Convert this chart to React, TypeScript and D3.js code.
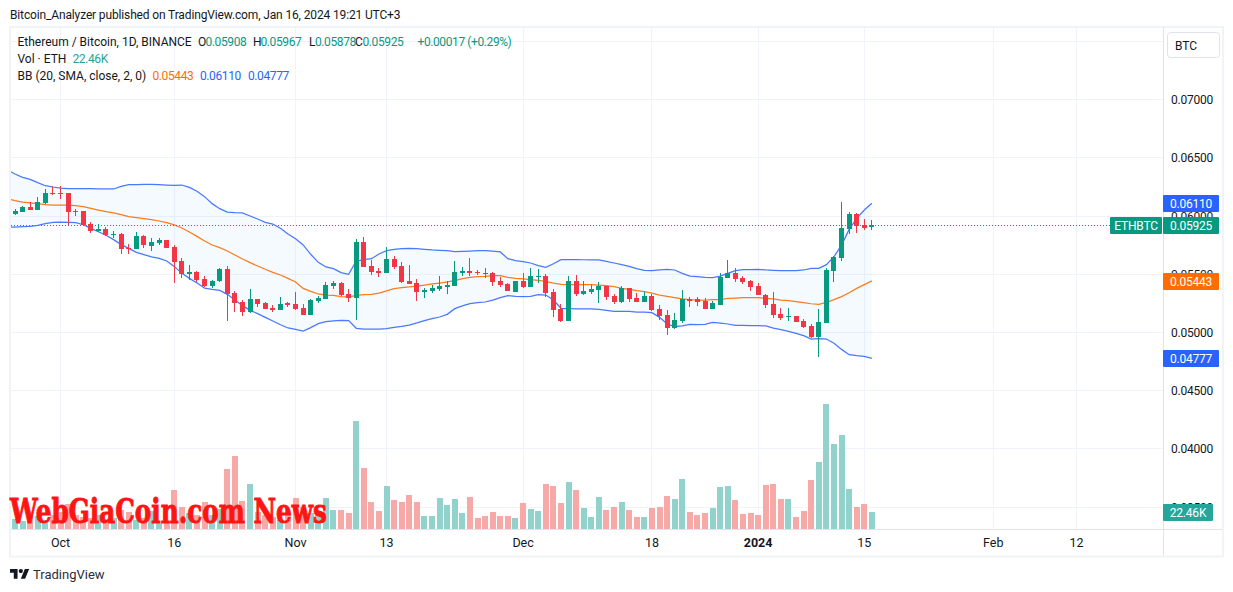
import React from "react";
import * as d3 from "d3";

const W = 1233;
const H = 592;
const FONT = "Roboto, sans-serif";

const opens = [
  0.06018, 0.06038, 0.06078, 0.06052, 0.06113, 0.06198, 0.06198, 0.06198, 0.06044, 0.06044,
  0.05932, 0.05869, 0.05889, 0.05838, 0.05846, 0.05726, 0.05717, 0.05829, 0.05743, 0.05769,
  0.05795, 0.05735, 0.05614, 0.05503, 0.0552, 0.0546, 0.054, 0.05442, 0.05546, 0.05339,
  0.05262, 0.05176, 0.05288, 0.05254, 0.05211, 0.05193, 0.05254, 0.05245, 0.0521, 0.0515,
  0.05271, 0.05288, 0.05399, 0.05425, 0.05331, 0.05296, 0.05778, 0.05571, 0.05528, 0.05511,
  0.05631, 0.05571, 0.05442, 0.05425, 0.05348, 0.05357, 0.05374, 0.05391, 0.05399, 0.05511,
  0.05528, 0.0552, 0.05511, 0.05511, 0.05442, 0.05417, 0.05348, 0.05442, 0.05391, 0.05477,
  0.05485, 0.05348, 0.05202, 0.05099, 0.05442, 0.05331, 0.05348, 0.05365, 0.05399, 0.05313,
  0.05262, 0.05382, 0.05296, 0.05262, 0.05313, 0.05202, 0.0515, 0.05038, 0.05099, 0.05288,
  0.05288, 0.0527, 0.05202, 0.05236, 0.05468, 0.05511, 0.05468, 0.05442, 0.05399, 0.05322,
  0.05245, 0.05159, 0.05133, 0.05142, 0.05099, 0.05056, 0.04961, 0.05081, 0.05528, 0.0564,
  0.05889, 0.06018, 0.05923, 0.05908,
];
const highs = [
  0.06061, 0.06084, 0.06118, 0.06161, 0.06233, 0.06259, 0.06259, 0.06198, 0.06061, 0.06044,
  0.05949, 0.05932, 0.05906, 0.05872, 0.05852, 0.0576, 0.05864, 0.05838, 0.05812, 0.05812,
  0.05795, 0.05752, 0.0564, 0.0558, 0.05528, 0.05485, 0.05451, 0.05554, 0.05571, 0.05357,
  0.05279, 0.05374, 0.05288, 0.05262, 0.05236, 0.05305, 0.05262, 0.05348, 0.05245, 0.05288,
  0.05314, 0.05434, 0.05442, 0.05434, 0.05374, 0.05803, 0.0582, 0.05623, 0.05554, 0.05732,
  0.05657, 0.05606, 0.0558, 0.0546, 0.05382, 0.05408, 0.05485, 0.05442, 0.05614, 0.05563,
  0.0564, 0.05537, 0.05554, 0.0552, 0.05477, 0.05425, 0.05442, 0.05511, 0.05554, 0.05546,
  0.05503, 0.05374, 0.05245, 0.05485, 0.05494, 0.05442, 0.05408, 0.05434, 0.05399, 0.05331,
  0.05399, 0.05382, 0.05339, 0.05348, 0.05331, 0.05236, 0.05193, 0.05167, 0.05365, 0.05305,
  0.05305, 0.05296, 0.0527, 0.05511, 0.05623, 0.05554, 0.05485, 0.05451, 0.05425, 0.05331,
  0.05348, 0.0521, 0.0521, 0.05142, 0.05116, 0.05073, 0.05199, 0.05554, 0.05657, 0.06121,
  0.06035, 0.06026, 0.05975, 0.05967,
];
const lows = [
  0.0601, 0.06032, 0.06052, 0.06052, 0.06104, 0.06178, 0.06147, 0.05924, 0.06001, 0.05921,
  0.05855, 0.05861, 0.05829, 0.05812, 0.05674, 0.05674, 0.05717, 0.05726, 0.057, 0.05752,
  0.05726, 0.05425, 0.05468, 0.05451, 0.05434, 0.05391, 0.05382, 0.05434, 0.05099, 0.05176,
  0.05142, 0.05168, 0.05219, 0.05202, 0.05176, 0.05193, 0.05219, 0.05193, 0.0515, 0.0515,
  0.05253, 0.05288, 0.05374, 0.05314, 0.05262, 0.05107, 0.05563, 0.05494, 0.05477, 0.05511,
  0.05546, 0.05425, 0.05414, 0.05271, 0.05296, 0.05339, 0.05357, 0.05331, 0.05399, 0.05485,
  0.05485, 0.05494, 0.05468, 0.05399, 0.05391, 0.05357, 0.05348, 0.05382, 0.05391, 0.05425,
  0.05305, 0.05133, 0.0509, 0.05099, 0.05314, 0.05322, 0.05331, 0.05253, 0.05279, 0.05245,
  0.05253, 0.05262, 0.05262, 0.05262, 0.05184, 0.05107, 0.04978, 0.0503, 0.05081, 0.05219,
  0.05227, 0.05202, 0.05202, 0.05236, 0.05468, 0.05434, 0.05416, 0.05356, 0.05322, 0.0521,
  0.05124, 0.05107, 0.05099, 0.0509, 0.05038, 0.04952, 0.04789, 0.05081, 0.05434, 0.05614,
  0.05846, 0.05855, 0.0588, 0.05878,
];
const closes = [
  0.06044, 0.06075, 0.06052, 0.06118, 0.06198, 0.0619, 0.0619, 0.06038, 0.06035, 0.05921,
  0.05872, 0.05886, 0.05838, 0.05846, 0.05717, 0.05717, 0.05829, 0.05752, 0.05778, 0.05795,
  0.05726, 0.05606, 0.05503, 0.0552, 0.05451, 0.054, 0.05442, 0.05546, 0.05331, 0.05254,
  0.05176, 0.05288, 0.05245, 0.05202, 0.05193, 0.05245, 0.05236, 0.05202, 0.0515, 0.05279,
  0.05296, 0.05408, 0.05425, 0.05322, 0.05296, 0.05778, 0.05563, 0.0552, 0.05511, 0.05631,
  0.05563, 0.05434, 0.05417, 0.05348, 0.05368, 0.05382, 0.05399, 0.05408, 0.0552, 0.05528,
  0.05511, 0.05511, 0.05503, 0.05434, 0.05408, 0.05357, 0.05442, 0.05391, 0.05485, 0.05485,
  0.05339, 0.05193, 0.05099, 0.05442, 0.05331, 0.05356, 0.05373, 0.05399, 0.05305, 0.05262,
  0.05382, 0.05288, 0.05262, 0.05313, 0.05193, 0.05142, 0.05038, 0.05107, 0.05288, 0.0527,
  0.05262, 0.05202, 0.05253, 0.05477, 0.05511, 0.05459, 0.05434, 0.05391, 0.05322, 0.05236,
  0.0515, 0.05124, 0.05142, 0.0509, 0.05047, 0.04961, 0.0509, 0.05537, 0.05648, 0.05898,
  0.06018, 0.05915, 0.05898, 0.05925,
];

// thousands of ETH
const volumes = [
  12.8, 11, 18.5, 17.6, 11.9, 18.5, 22, 33, 18.5, 16.3,
  14.1, 18.5, 11.9, 14.1, 25, 22.9, 11.9, 14.1, 23.3, 7.9,
  9.7, 51.5, 29, 21.6, 18.5, 35.6, 18.5, 26.4, 79.2, 96.4,
  37, 59.4, 22.4, 18.5, 15.8, 11.9, 20.7, 40.9, 29.5, 20.7,
  18.5, 40.9, 25.1, 25.1, 21.1, 142.6, 80.5, 35.6, 23.8, 56.8,
  38.3, 35.6, 44.9, 35.6, 17.2, 17.2, 40.9, 31.7, 39.6, 21.1,
  42.2, 14.5, 17.2, 22.4, 17.2, 17.2, 14.5, 34.3, 26.4, 23.8,
  59.4, 56.8, 34.3, 62, 51.5, 27.7, 15.8, 42.2, 25.1, 29,
  35.6, 25.1, 15.8, 15.8, 27.7, 29, 43.6, 39.6, 66, 22.4,
  18.5, 21.1, 27.7, 55.4, 56.8, 38.3, 19.8, 21.1, 18.5, 58.1,
  59.4, 39.6, 39.6, 15.8, 23.8, 64.7, 88.4, 165, 112.2, 124.1,
  52.8, 29, 33, 22.46,
];

// BB arrays start one day earlier than the candles (the line runs off the left edge)
const bbUpper = [
  0.06396, 0.06362, 0.06333, 0.06316, 0.06287, 0.06261, 0.0625, 0.06241, 0.06236, 0.06236,
  0.06236, 0.06236, 0.06233, 0.06233, 0.06233, 0.06256, 0.0627, 0.0627, 0.06273, 0.06273,
  0.0627, 0.06267, 0.06264, 0.06267, 0.06247, 0.06213, 0.06167, 0.06107, 0.06064, 0.06035,
  0.0603, 0.06027, 0.06001, 0.05975, 0.05946, 0.05932, 0.05895, 0.05846, 0.05806, 0.05752,
  0.05672, 0.05603, 0.05563, 0.05548, 0.05514, 0.055, 0.05614, 0.05626, 0.05634, 0.05674,
  0.05703, 0.05714, 0.0572, 0.05723, 0.0572, 0.05714, 0.05709, 0.05706, 0.05703, 0.05694,
  0.05697, 0.057, 0.05703, 0.05703, 0.057, 0.05692, 0.05634, 0.05617, 0.05609, 0.05597,
  0.05574, 0.0556, 0.05591, 0.05626, 0.05626, 0.05626, 0.05625, 0.05625, 0.05623, 0.05611,
  0.05597, 0.05583, 0.05568, 0.05548, 0.05534, 0.05531, 0.05537, 0.05542, 0.05537, 0.05508,
  0.05485, 0.05479, 0.05474, 0.05471, 0.05485, 0.05508, 0.05531, 0.0554, 0.0554, 0.05542,
  0.05537, 0.05534, 0.05531, 0.05531, 0.05531, 0.05537, 0.05551, 0.05551, 0.05583, 0.05651,
  0.05751, 0.05886, 0.05981, 0.06052, 0.0611,
];
const bbBasis = [
  0.0615, 0.06133, 0.06121, 0.06113, 0.06107, 0.06098, 0.06095, 0.06095, 0.06095, 0.0609,
  0.06081, 0.06067, 0.06052, 0.06038, 0.06027, 0.06012, 0.05995, 0.05987, 0.05978, 0.05969,
  0.05958, 0.05944, 0.05924, 0.05898, 0.05863, 0.05826, 0.05786, 0.05752, 0.05729, 0.057,
  0.05666, 0.05631, 0.056, 0.05571, 0.05543, 0.05517, 0.05494, 0.05465, 0.05434, 0.05379,
  0.05354, 0.05331, 0.05322, 0.05319, 0.05308, 0.05305, 0.05319, 0.05325, 0.05328, 0.05339,
  0.05357, 0.05377, 0.05385, 0.05391, 0.05399, 0.05408, 0.05417, 0.05425, 0.05434, 0.05445,
  0.05463, 0.05474, 0.0548, 0.05483, 0.05488, 0.05488, 0.05474, 0.05465, 0.0546, 0.05454,
  0.05448, 0.0544, 0.05425, 0.05414, 0.05411, 0.05411, 0.05411, 0.05411, 0.05408, 0.05402,
  0.05394, 0.05379, 0.05371, 0.05359, 0.05351, 0.05339, 0.05322, 0.05311, 0.05299, 0.05288,
  0.05282, 0.05276, 0.05279, 0.05282, 0.05282, 0.05293, 0.05296, 0.05299, 0.05299, 0.05299,
  0.05293, 0.05288, 0.05279, 0.05273, 0.05265, 0.05256, 0.05247, 0.05242, 0.05259, 0.05282,
  0.05308, 0.05342, 0.05379, 0.05411, 0.05443,
];
const bbLower = [
  0.05904, 0.05906, 0.05909, 0.05912, 0.05921, 0.05935, 0.05946, 0.05949, 0.05946, 0.05944,
  0.05926, 0.05895, 0.05866, 0.05835, 0.05798, 0.05755, 0.05723, 0.05689, 0.05669, 0.05649,
  0.05637, 0.05614, 0.05568, 0.05508, 0.05465, 0.05425, 0.05382, 0.05371, 0.05362, 0.05328,
  0.05279, 0.05231, 0.0519, 0.05162, 0.0513, 0.05099, 0.05067, 0.05039, 0.05027, 0.05013,
  0.05042, 0.05076, 0.05093, 0.05099, 0.05105, 0.05102, 0.05036, 0.0503, 0.0503, 0.0503,
  0.05033, 0.05044, 0.05053, 0.05064, 0.05082, 0.05102, 0.05119, 0.05133, 0.05156, 0.05205,
  0.05228, 0.05248, 0.05256, 0.05262, 0.05279, 0.05299, 0.05316, 0.05311, 0.05308, 0.05311,
  0.05325, 0.05322, 0.05279, 0.05208, 0.05205, 0.05202, 0.05202, 0.05202, 0.05199, 0.0519,
  0.05182, 0.05182, 0.05182, 0.05176, 0.05176, 0.0517, 0.0513, 0.05073, 0.0505, 0.05056,
  0.0507, 0.05067, 0.0507, 0.05087, 0.05081, 0.05073, 0.05061, 0.05061, 0.05058, 0.05058,
  0.05056, 0.05038, 0.05024, 0.0501, 0.04993, 0.04973, 0.04944, 0.04947, 0.04944, 0.04907,
  0.04855, 0.04809, 0.04801, 0.04795, 0.04777,
];

const priceTicks = [0.07, 0.065, 0.06, 0.055, 0.05, 0.045, 0.04, 0.035];
const gridOnlyTicks = [0.075];
const timeTicks: [Date, string, boolean][] = [
  [new Date(Date.UTC(2023, 9, 1)), "Oct", false],
  [new Date(Date.UTC(2023, 9, 16)), "16", false],
  [new Date(Date.UTC(2023, 10, 1)), "Nov", false],
  [new Date(Date.UTC(2023, 10, 13)), "13", false],
  [new Date(Date.UTC(2023, 11, 1)), "Dec", false],
  [new Date(Date.UTC(2023, 11, 18)), "18", false],
  [new Date(Date.UTC(2024, 0, 1)), "2024", true],
  [new Date(Date.UTC(2024, 0, 15)), "15", false],
  [new Date(Date.UTC(2024, 1, 1)), "Feb", false],
  [new Date(Date.UTC(2024, 1, 12)), "12", false],
];

const firstDay = new Date(Date.UTC(2023, 8, 25));
const days = closes.map((_, i) => d3.utcDay.offset(firstDay, i));
const bbDays = bbBasis.map((_, i) => d3.utcDay.offset(firstDay, i - 1));

const x = d3
  .scaleUtc()
  .domain([new Date(Date.UTC(2023, 9, 1)), new Date(Date.UTC(2024, 0, 15))])
  .range([60.5, 864.3]);
const y = d3.scaleLinear().domain([0.05, 0.07]).range([332.5, 99.7]);
const yVol = d3.scaleLinear().domain([0, 165]).range([529, 404]);

const GREEN = "#089981";
const RED = "#f23645";
const BLUE = "#2962ff";
const ORANGE = "#ff6d00";
const GRID = "#f0f3fa";
const BORDER = "#e0e3eb";
const TEXT = "#131722";

const PANE = { left: 11, right: 1163, top: 27, bottom: 529 };
const snap = (v: number) => Math.floor(v) + 0.5;

const bbLine = (values: number[]) =>
  d3
    .line<number>()
    .x((_, i) => x(bbDays[i]))
    .y((d) => y(d))(values) as string;

const bbArea = d3
  .area<number>()
  .x((_, i) => x(bbDays[i]))
  .y0((_, i) => y(bbLower[i]))
  .y1((d) => y(d))(bbUpper) as string;

const Tag = ({ x0, w, cy, fill, label }: { x0: number; w: number; cy: number; fill: string; label: string }) => (
  <g>
    <rect x={x0} y={Math.round(cy) - 8} width={w} height={17} fill={fill} rx={1} />
    <text
      x={x0 + w / 2}
      y={Math.round(cy) + 4.8}
      textAnchor="middle"
      fontSize={12}
      letterSpacing={-0.2}
      fill="#fff"
    >
      {label}
    </text>
  </g>
);

// value texts in the legend run a bit narrower than the labels
const Legend = ({ px, py, fill, children }: { px: number; py: number; fill: string; children: React.ReactNode }) => (
  <text x={px} y={py} fontSize={12} fill={fill} letterSpacing={fill === TEXT ? 0 : -0.4}>
    {children}
  </text>
);

export default function App() {
  const last = closes.length - 1;
  const lastY = Math.round(y(closes[last])) + 0.5;
  return (
    <svg
      width={W}
      height={H}
      style={{ position: "absolute", left: 0, top: 0, background: "#fff" }}
      fontFamily={FONT}
    >
      <defs>
        <clipPath id="pane">
          <rect x={PANE.left} y={PANE.top} width={PANE.right - PANE.left} height={PANE.bottom - PANE.top} />
        </clipPath>
      </defs>

      <text x={10} y={19} fontSize={12} letterSpacing={-0.14} fill={TEXT}>
        Bitcoin_Analyzer published on TradingView.com, Jan 16, 2024 19:21 UTC+3
      </text>

      {/* frame */}
      <rect x={10} y={27} width={1213} height={529.5} fill="none" stroke={GRID} strokeWidth={2} />

      {/* grid */}
      {[...priceTicks, ...gridOnlyTicks].map((t) => (
        <line key={t} x1={PANE.left} x2={PANE.right} y1={snap(y(t))} y2={snap(y(t))} stroke={GRID} />
      ))}
      {timeTicks.map(([d, label]) => (
        <line key={label} x1={snap(x(d))} x2={snap(x(d))} y1={PANE.top} y2={PANE.bottom} stroke={GRID} />
      ))}

      <g clipPath="url(#pane)">
        <path d={bbArea} fill="#2196f3" fillOpacity={0.05} />

        {/* volume */}
        {volumes.map((v, i) => (
          <rect
            key={i}
            x={Math.round(x(days[i])) - 3}
            y={Math.round(yVol(v))}
            width={6}
            height={yVol(0) - Math.round(yVol(v))}
            fill={closes[i] >= opens[i] ? "#92d2cc" : "#f7a9a7"}
          />
        ))}

        <path d={bbLine(bbUpper)} fill="none" stroke={BLUE} strokeOpacity={0.85} strokeWidth={1.25} />
        <path d={bbLine(bbLower)} fill="none" stroke={BLUE} strokeOpacity={0.85} strokeWidth={1.25} />
        <path d={bbLine(bbBasis)} fill="none" stroke={ORANGE} strokeOpacity={0.9} strokeWidth={1.25} />

        {/* candles */}
        {closes.map((c, i) => {
          const o = opens[i];
          const cx = snap(x(days[i]));
          const color = c >= o ? GREEN : RED;
          const top = Math.round(y(Math.max(o, c)));
          const bottom = Math.round(y(Math.min(o, c)));
          return (
            <g key={i}>
              <line x1={cx} x2={cx} y1={Math.round(y(highs[i]))} y2={Math.round(y(lows[i]))} stroke={color} />
              <rect x={cx - 2.5} y={top} width={5} height={Math.max(bottom - top, 1)} fill={color} />
            </g>
          );
        })}

        <line x1={PANE.left} x2={1110} y1={lastY} y2={lastY} stroke={GREEN} strokeDasharray="1 2" />
      </g>

      {/* watermark */}
      <text
        x={10}
        y={522.7}
        fontFamily="'DejaVu Serif', serif"
        fontWeight={700}
        fontSize={33}
        fill="#ff1414"
        stroke="#ff1414"
        strokeWidth={1}
        textLength={317}
        lengthAdjust="spacingAndGlyphs"
      >
        WebGiaCoin.com News
      </text>

      {/* axes */}
      <line x1={1163.5} x2={1163.5} y1={PANE.top} y2={555.5} stroke={BORDER} />
      <line x1={PANE.left} x2={1222} y1={529.5} y2={529.5} stroke={BORDER} />

      {priceTicks.map((t) => (
        <text key={t} x={1192} y={y(t) + 4.5} textAnchor="middle" fontSize={12} letterSpacing={-0.2} fill={TEXT}>
          {t.toFixed(5)}
        </text>
      ))}
      {timeTicks.map(([d, label, bold]) => (
        <text
          key={label}
          x={x(d)}
          y={546.5}
          textAnchor="middle"
          fontSize={12.5}
          fontWeight={bold ? 700 : 400}
          fill={TEXT}
        >
          {label}
        </text>
      ))}

      {/* BTC button */}
      <rect x={1167.5} y={32.5} width={52} height={25} rx={3} fill="#fff" stroke={BORDER} />
      <text x={1186} y={49.5} textAnchor="middle" fontSize={12} fill={TEXT}>
        BTC
      </text>

      {/* price tags */}
      <Tag x0={1163} w={56} cy={y(bbUpper[bbUpper.length - 1])} fill={BLUE} label="0.06110" />
      <Tag x0={1110} w={52} cy={y(closes[last])} fill={GREEN} label="ETHBTC" />
      <Tag x0={1163} w={56} cy={y(closes[last])} fill={GREEN} label="0.05925" />
      <Tag x0={1163} w={56} cy={y(bbBasis[bbBasis.length - 1])} fill={ORANGE} label="0.05443" />
      <Tag x0={1163} w={56} cy={y(bbLower[bbLower.length - 1])} fill={BLUE} label="0.04777" />
      <Tag x0={1163} w={50} cy={yVol(volumes[last])} fill="#26a69a" label="22.46K" />

      {/* legend */}
      <Legend px={17.5} py={46} fill={TEXT}>Ethereum / Bitcoin, 1D, BINANCE</Legend>
      <Legend px={198} py={46} fill={TEXT}>O</Legend>
      <Legend px={205.5} py={46} fill={GREEN}>0.05908</Legend>
      <Legend px={253} py={46} fill={TEXT}>H</Legend>
      <Legend px={260.5} py={46} fill={GREEN}>0.05967</Legend>
      <Legend px={309} py={46} fill={TEXT}>L</Legend>
      <Legend px={315} py={46} fill={GREEN}>0.05878</Legend>
      <Legend px={355} py={46} fill={TEXT}>C</Legend>
      <Legend px={362.5} py={46} fill={GREEN}>0.05925</Legend>
      <Legend px={417.5} py={46} fill={GREEN}>+0.00017 (+0.29%)</Legend>
      <Legend px={17.5} py={63} fill={TEXT}>Vol · ETH</Legend>
      <Legend px={72.5} py={63} fill="#26a69a">22.46K</Legend>
      <Legend px={17.5} py={80} fill={TEXT}>BB (20, SMA, close, 2, 0)</Legend>
      <Legend px={152.5} py={80} fill={ORANGE}>0.05443</Legend>
      <Legend px={200} py={80} fill={BLUE}>0.06110</Legend>
      <Legend px={248} py={80} fill={BLUE}>0.04777</Legend>

      {/* footer */}
      <g transform="translate(10,566.8) scale(0.54)" fill={TEXT}>
        <path d="M14 22H7V11H0V4h14v18zM28 22h-8l7.5-18h8L28 22z" />
        <circle cx={20} cy={8} r={4} />
      </g>
      <text x={33} y={579} fontSize={13} fill="#2a2e39">
        TradingView
      </text>
    </svg>
  );
}
